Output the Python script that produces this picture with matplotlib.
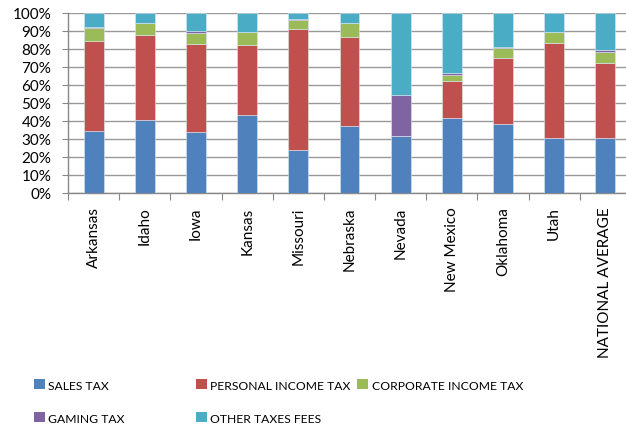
import matplotlib
matplotlib.use("Agg")
import matplotlib.pyplot as plt
from matplotlib.patches import Patch
import numpy as np

plt.rcParams['font.family'] = ['Lato', 'DejaVu Sans']

states = ["Arkansas", "Idaho", "Iowa", "Kansas", "Missouri", "Nebraska",
          "Nevada", "New Mexico", "Oklahoma", "Utah", "NATIONAL AVERAGE"]
sales_tax = [34.4, 40.3, 33.5, 42.9, 23.8, 36.8, 31.2, 41.3, 37.9, 30.1, 30.1]
personal_income_tax = [50.2, 47.4, 49.2, 39.4, 67.4, 50.0, 0.0, 20.8, 37.2, 53.3, 42.2]
corporate_income_tax = [7.0, 6.7, 6.0, 7.1, 5.1, 7.4, 0.0, 3.2, 5.4, 6.0, 6.1]
gaming_tax = [0.5, 0.0, 1.3, 0.0, 0.3, 0.3, 23.2, 1.1, 0.5, 0.0, 1.0]
other_taxes_fees = [100 - sum(v) for v in zip(sales_tax, personal_income_tax,
                                              corporate_income_tax, gaming_tax)]

series = [
    ("SALES TAX", sales_tax, "#4F81BD"),
    ("PERSONAL INCOME TAX", personal_income_tax, "#C0504D"),
    ("CORPORATE INCOME TAX", corporate_income_tax, "#9BBB59"),
    ("GAMING TAX", gaming_tax, "#8064A2"),
    ("OTHER TAXES FEES", other_taxes_fees, "#4BACC6"),
]

W, H = 626, 427
fig = plt.figure(figsize=(W / 100, H / 100), dpi=100)
left, right, top, bottom = 68, 631, 14, 193.5
ax = fig.add_axes([left / W, 1 - bottom / H, (right - left) / W, (bottom - top) / H])

x = np.arange(len(states))
base = np.zeros(len(states))
handles = []
for name, vals, color in series:
    vals = np.array(vals)
    ax.bar(x, vals, bottom=base, width=0.39, color=color,
           edgecolor="#dce6f2", linewidth=0.4, zorder=3)
    base += vals
    handles.append(Patch(facecolor=color, label=name))

ax.set_xlim(-0.5, len(states) - 0.5)
ax.set_ylim(0, 100)
ax.set_yticks(np.arange(0, 101, 10))
ax.set_yticklabels([f"{v}%" for v in range(0, 101, 10)], fontsize=11)
ax.set_xticks(np.arange(len(states) + 1) - 0.5, minor=False)
ax.set_xticklabels([])
ax.set_xticks(x, minor=True)
ax.set_xticklabels(states, minor=True, rotation=90, fontsize=11, va="top")
ax.tick_params(axis="x", which="minor", length=0, pad=10)
ax.tick_params(axis="x", which="major", length=5, color="#888888", direction="out")
ax.tick_params(axis="y", length=4, color="#888888", direction="out", pad=8)
ax.grid(axis="y", color="#999999", linewidth=1.0, zorder=0)
for s in ["top", "right"]:
    ax.spines[s].set_visible(False)
for s in ["left", "bottom"]:
    ax.spines[s].set_color("#888888")
    ax.spines[s].set_linewidth(1.0)

# legend entries laid out on a 3-column grid
positions = [(34, 386), (196, 386), (357, 386), (34, 419), (196, 419)]
for h, (px, py) in zip(handles, positions):
    fig.legend(handles=[h], loc="center left",
               bbox_to_anchor=(px / W, 1 - py / H), frameon=False,
               fontsize=8.7, handlelength=0.9, handleheight=0.9,
               handletextpad=0.3, borderaxespad=0, borderpad=0)

fig.savefig("out.png", dpi=100)
